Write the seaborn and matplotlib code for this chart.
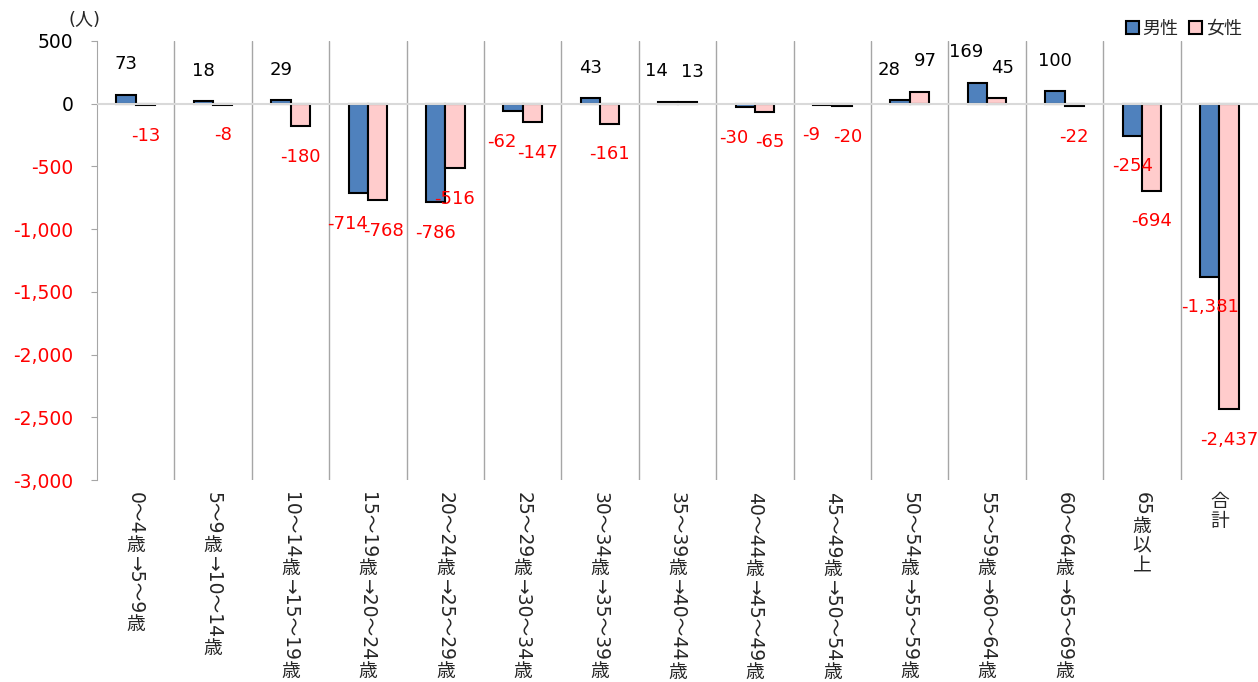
import matplotlib
matplotlib.use('Agg')
from matplotlib import pyplot as plt
from matplotlib.patches import Patch
from matplotlib.transforms import IdentityTransform
import seaborn as sns
import pandas as pd

# DATOS
categories = ['0～4歳→5～9歳', '5～9歳→10～14歳', '10～14歳→15～19歳', '15～19歳→20～24歳',
              '20～24歳→25～29歳', '25～29歳→30～34歳', '30～34歳→35～39歳', '35～39歳→40～44歳',
              '40～44歳→45～49歳', '45～49歳→50～54歳', '50～54歳→55～59歳', '55～59歳→60～64歳',
              '60～64歳→65～69歳', '65歳以上', '合計']
male = [73, 18, 29, -714, -786, -62, 43, 14, -30, -9, 28, 169, 100, -254, -1381]
female = [-13, -8, -180, -768, -516, -147, -161, 13, -65, -20, 97, 45, -22, -694, -2437]
series = ['男性', '女性']
yticks = [500, 0, -500, -1000, -1500, -2000, -2500, -3000]

palette = {'男性': '#4F81BD', '女性': '#FFCCCC'}
cjk = set('歳以上合計')

sns.set_style('white')
plt.rcParams['font.family'] = ['DejaVu Sans', 'Noto Sans CJK JP']

df = pd.DataFrame({
    '区分': categories * 2,
    '性別': [series[0]] * len(male) + [series[1]] * len(female),
    '人数': male + female,
})

fig = plt.figure(figsize=(12.58, 6.82), dpi=100)
ax = fig.add_axes([97 / 1258, 1 - 480 / 682, 1161 / 1258, 439 / 682])

sns.barplot(data=df, x='区分', y='人数', hue='性別', palette=palette, width=0.5,
            saturation=1, edgecolor='black', linewidth=1.5, ax=ax, legend=False, zorder=2)

ax.set_xlim(-0.5, len(categories) - 0.5)
ax.set_ylim(-3000, 500)
ax.set_yticks(yticks)
ax.set_yticklabels([f'{v:,}' for v in yticks])
for lbl, v in zip(ax.get_yticklabels(), yticks):
    lbl.set_color('red' if v < 0 else 'black')
ax.set_xticks([])
ax.set_xlabel('')
ax.set_ylabel('')
ax.tick_params(axis='y', left=True, length=4, color='#a6a6a6', labelsize=13.5, pad=13)
for s in ['top', 'right', 'bottom']:
    ax.spines[s].set_visible(False)
ax.spines['left'].set_color('#a6a6a6')

# separadores y linea del cero
for i in range(len(categories) - 1):
    ax.axvline(i + 0.5, color='#a6a6a6', lw=1, zorder=1)
ax.axhline(0, color='#d9d9d9', lw=1.5, zorder=3)

# etiquetas de datos
for k, (cont, vals, other) in enumerate(zip(ax.containers, [male, female], [female, male])):
    for bar, v, w in zip(cont, vals, other):
        x = bar.get_x() + bar.get_width() / 2
        dx = 0
        if (v >= 0) == (w >= 0) and abs(v - w) < 200:
            dx = -8 if k == 0 else 4
        dy = 22 if v >= 0 else -22
        ax.annotate(f'{v:,}', (x, v), xytext=(dx, dy), textcoords='offset points',
                    ha='center', va='center', color='black' if v >= 0 else 'red',
                    fontsize=13, zorder=4)

# etiquetas verticales
fig.canvas.draw()
renderer = fig.canvas.get_renderer()
for i, lab in enumerate(categories):
    tokens = []
    for ch in lab:
        if ch in cjk:
            tokens.append((ch, True))
        elif tokens and not tokens[-1][1]:
            tokens[-1] = (tokens[-1][0] + ch, False)
        else:
            tokens.append((ch, False))
    xd, _ = ax.transData.transform((i, 0))
    y = 682 - 492
    for tok, upright in tokens:
        t = fig.text(xd, y, tok, transform=IdentityTransform(), ha='center', va='top',
                     rotation=0 if upright else -90, fontsize=13.5)
        bb = t.get_window_extent(renderer)
        y -= bb.height + 1

fig.text(85 / 1258, 1 - 20 / 682, '(人)', ha='center', va='center', fontsize=13)

handles = [Patch(facecolor=palette[s], edgecolor='black', lw=1.5) for s in series]
fig.legend(handles, series, loc='upper right', bbox_to_anchor=(1.0, 0.995), ncol=2, frameon=False,
           handlelength=0.7, handleheight=0.7, handletextpad=0.2, columnspacing=0.6, fontsize=13)

fig.savefig('out.png', dpi=100)
